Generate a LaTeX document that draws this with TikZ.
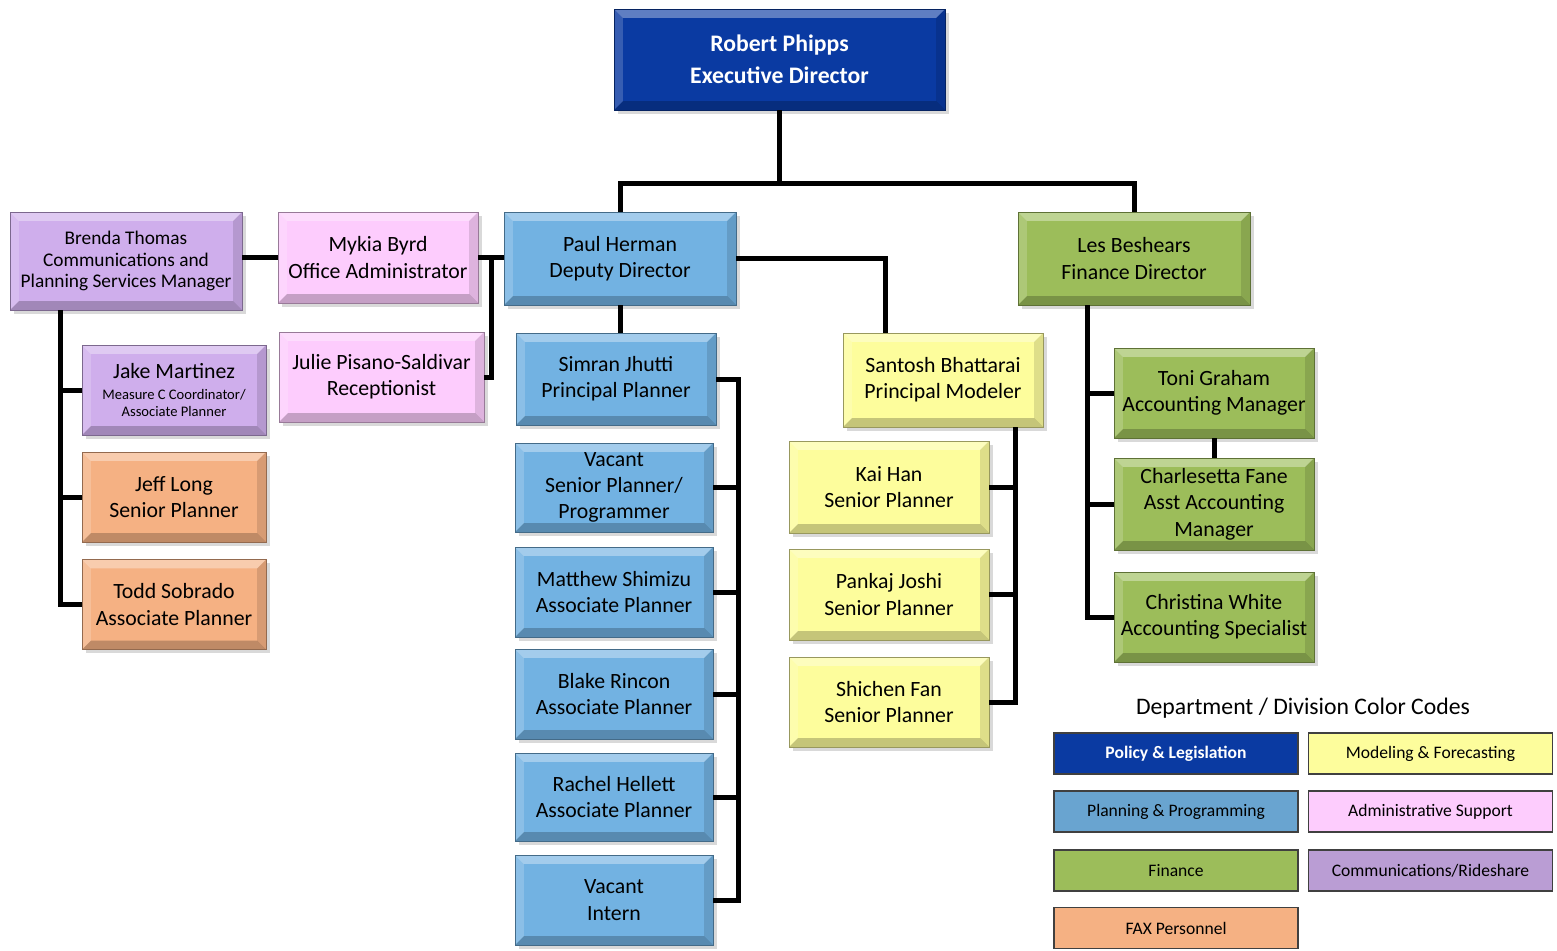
\documentclass[tikz,border=0pt]{standalone}
\usepackage{fontspec}
\setmainfont{Carlito}
\usepackage{tikz}
\usetikzlibrary{shadows}

\definecolor{execblue}{HTML}{0A3AA2}
\definecolor{planblue}{HTML}{72B2E2}
\definecolor{modyellow}{HTML}{FDFD9C}
\definecolor{adminpink}{HTML}{FDCCFD}
\definecolor{commpurple}{HTML}{CFAEEC}
\definecolor{fingreen}{HTML}{9CBD5A}
\definecolor{faxorange}{HTML}{F5B183}

\tikzset{
  sz/.style 2 args={minimum width=#1*0.02cm, minimum height=#2*0.02cm},
  bevel/.style={path picture={
    \fill[white,opacity=0.35] (path picture bounding box.north west) -- (path picture bounding box.north east)
      -- ([xshift=-5pt,yshift=-5pt]path picture bounding box.north east) -- ([xshift=5pt,yshift=-5pt]path picture bounding box.north west) -- cycle;
    \fill[white,opacity=0.18] (path picture bounding box.north west) -- (path picture bounding box.south west)
      -- ([xshift=5pt,yshift=5pt]path picture bounding box.south west) -- ([xshift=5pt,yshift=-5pt]path picture bounding box.north west) -- cycle;
    \fill[black,opacity=0.22] (path picture bounding box.south west) -- (path picture bounding box.south east)
      -- ([xshift=-5pt,yshift=5pt]path picture bounding box.south east) -- ([xshift=5pt,yshift=5pt]path picture bounding box.south west) -- cycle;
    \fill[black,opacity=0.12] (path picture bounding box.north east) -- (path picture bounding box.south east)
      -- ([xshift=-5pt,yshift=5pt]path picture bounding box.south east) -- ([xshift=-5pt,yshift=-5pt]path picture bounding box.north east) -- cycle;
  }},
  box/.style={fill=#1, draw=#1!60!black, line width=0.4pt, align=center, inner sep=2pt, bevel,
    drop shadow={shadow xshift=2pt, shadow yshift=-2pt, opacity=0.3},
    font=\fontsize{12.4}{15}\selectfont},
  std/.style={box=#1, sz={200}{90}},
  big/.style={box=#1, sz={232}{93}},
  side/.style={box=#1, sz={184}{90}},
  key/.style={fill=#1, draw=black!75, line width=0.8pt, sz={244}{41}, align=center,
    font=\fontsize{10}{12}\selectfont},
  conn/.style={line width=1mm},
}

\begin{document}
\begin{tikzpicture}[x=0.02cm, y=-0.02cm]
\useasboundingbox (0,0) rectangle (1557,950);

% top row
\node[box=execblue, sz={331}{101}, text=white, font=\fontsize{13.5}{18}\selectfont\bfseries] (exec) at (779.5,59.5) {Robert Phipps\\Executive Director};
\node[box=commpurple, sz={232}{98}, font=\fontsize{11}{12}\selectfont] (brenda) at (126,261) {Brenda Thomas\\Communications and\\Planning Services Manager};
\node[std=adminpink, sz={200}{91}] (mykia) at (378,257.5) {Mykia Byrd\\Office Administrator};
\node[big=planblue] (paul) at (620,258.5) {Paul Herman\\Deputy Director};
\node[big=fingreen] (les) at (1134,258.5) {Les Beshears\\Finance Director};

% communications
\node[side=commpurple, font=\fontsize{8.3}{9.8}\selectfont] (jake) at (174,390) {{\fontsize{12.4}{15}\selectfont Jake Martinez}\\[2pt]Measure C Coordinator/\\Associate Planner};
\node[side=faxorange] (jeff) at (174,497) {Jeff Long\\Senior Planner};
\node[side=faxorange] (todd) at (174,604.5) {Todd Sobrado\\Associate Planner};
\node[std=adminpink, sz={205}{90}] (julie) at (381.5,377) {Julie Pisano-Saldivar\\Receptionist};

% planning
\node[std=planblue, sz={200}{92}] (simran) at (616,379) {Simran Jhutti\\Principal Planner};
\node[std=planblue, sz={198}{89}] (vacsp) at (614,487.5) {Vacant\\Senior Planner/\\Programmer};
\node[std=planblue, sz={198}{90}] (matthew) at (614,592) {Matthew Shimizu\\Associate Planner};
\node[std=planblue, sz={198}{90}] (blake) at (614,694) {Blake Rincon\\Associate Planner};
\node[std=planblue, sz={198}{88}] (rachel) at (614,797) {Rachel Hellett\\Associate Planner};
\node[std=planblue, sz={198}{90}] (intern) at (614,900) {Vacant\\Intern};

% modeling
\node[std=modyellow, sz={200}{94}] (santosh) at (943,380) {Santosh Bhattarai\\Principal Modeler};
\node[std=modyellow, sz={200}{92}] (kai) at (889,487) {Kai Han\\Senior Planner};
\node[std=modyellow, sz={200}{91}] (pankaj) at (889,594.5) {Pankaj Joshi\\Senior Planner};
\node[std=modyellow] (shichen) at (889,702) {Shichen Fan\\Senior Planner};

% finance
\node[std=fingreen] (toni) at (1214,393) {Toni Graham\\Accounting Manager};
\node[std=fingreen, sz={200}{92}] (charl) at (1214,504) {Charlesetta Fane\\Asst Accounting\\Manager};
\node[std=fingreen] (christina) at (1214,617) {Christina White\\Accounting Specialist};

% connectors
\path (exec.south) ++(0,73) coordinate (top);
\draw[conn] (exec.south) -- (top);
\draw[conn] (paul.north) |- (top) -| (les.north);
\draw[conn] (mykia.west) -- (mykia.west -| brenda.east);
\draw[conn] (mykia.east) -- (mykia.east -| paul.west);
\coordinate (abus) at (491,257.5);
\draw[conn] (abus) |- (julie.east);
\draw[conn] (paul.east) -| ([xshift=-1.16cm]santosh.north);
\draw[conn] (paul.south) -- (paul.south |- simran.north);

\coordinate (pbus) at (738,0);
\draw[conn] (simran.east) -| (pbus |- intern.east) -- (intern.east);
\foreach \n in {vacsp,matthew,blake,rachel}
  \draw[conn] (\n.east) -- (\n.east -| pbus);

\draw[conn] ([xshift=-1.32cm]brenda.south) |- (todd.west);
\foreach \n in {jake,jeff}
  \draw[conn] (\n.west) -- ++(-22,0);

\draw[conn] ([xshift=1.44cm]santosh.south) |- (shichen.east);
\foreach \n in {kai,pankaj}
  \draw[conn] (\n.east) -- ++(26,0);

\draw[conn] ([xshift=-0.94cm]les.south) |- (christina.west);
\foreach \n in {toni,charl}
  \draw[conn] (\n.west) -- ++(-27,0);
\draw[conn] (toni.south) -- (charl.north);

% legend
\node[font=\fontsize{13.5}{16}\selectfont] (legtitle) at (1303,708) {Department / Division Color Codes};
\node[key=execblue, text=white, font=\fontsize{10}{12}\selectfont\bfseries] (kpolicy) at (1176,753.5) {Policy \& Legislation};
\node[key=planblue!92!black] (kplan) at (1176,811.5) {Planning \& Programming};
\node[key=fingreen] (kfin) at (1176,870.5) {Finance};
\node[key=faxorange] (kfax) at (1176,928) {FAX Personnel};
\node[key=modyellow] (kmod) at (1430.5,753.5) {Modeling \& Forecasting};
\node[key=adminpink] (kadmin) at (1430.5,811.5) {Administrative Support};
\node[key=commpurple!90!black] (kcomm) at (1430.5,870.5) {Communications/Rideshare};

\end{tikzpicture}
\end{document}
